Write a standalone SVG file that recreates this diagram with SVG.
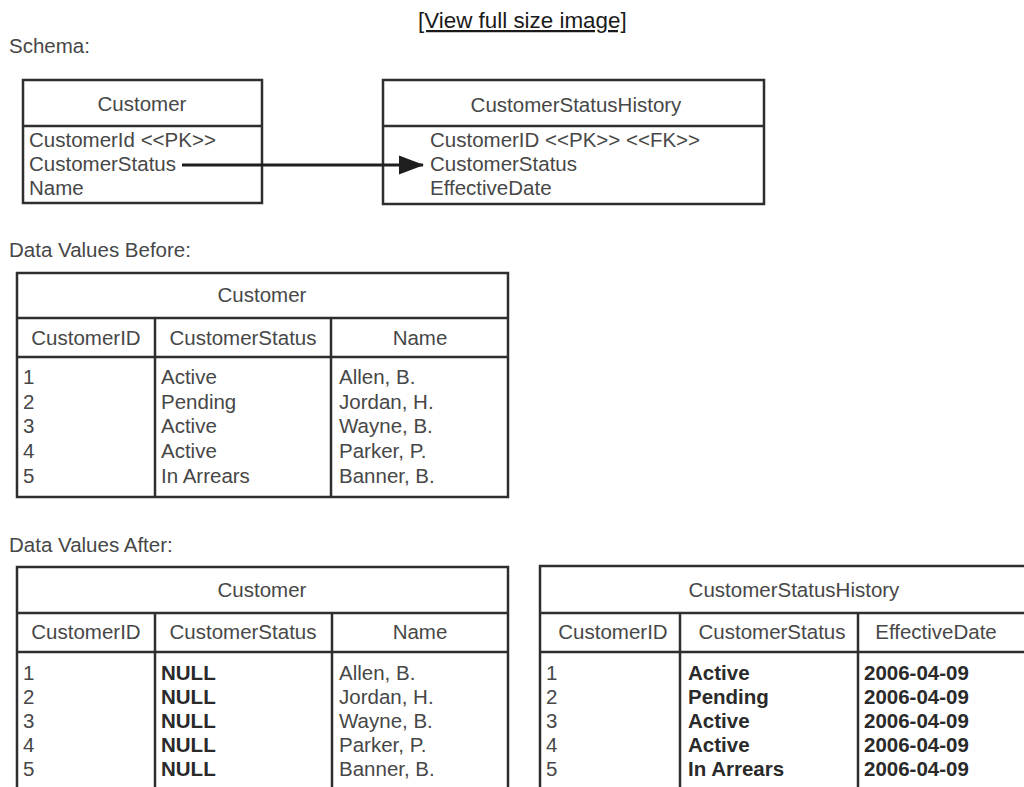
<svg xmlns="http://www.w3.org/2000/svg" width="1024" height="787" viewBox="0 0 1024 787">
<style>
  text { font-family: "Liberation Sans", Arial, sans-serif; font-size: 20.5px; fill: #474747; }
  .b { font-weight: bold; fill: #2a2a2a; }
  .c { text-anchor: middle; }
  .link { font-size: 22.4px; fill: #1a1a1a; text-decoration: underline; }
  .box { fill: #ffffff; stroke: #2e2e2e; stroke-width: 2.5; }
  .ln { stroke: #2e2e2e; stroke-width: 2.5; fill: none; }
  .arrow { stroke: #1e1e1e; stroke-width: 3.2; fill: none; }
</style>
<defs>
  <marker id="ah" markerWidth="8" markerHeight="6" refX="7.6" refY="3" orient="auto" markerUnits="strokeWidth">
    <polygon points="0,0 8,3 0,6" fill="#1e1e1e"/>
  </marker>
</defs>
<rect width="1024" height="787" fill="#ffffff"/>

<text class="link" x="418" y="28">[View full size image]</text>
<text x="9" y="53">Schema:</text>
<text x="9" y="257">Data Values Before:</text>
<text x="9" y="552">Data Values After:</text>

<g id="schema-customer">
  <rect class="box" x="23" y="80" width="239" height="123"/>
  <line class="ln" x1="23" y1="126" x2="262" y2="126"/>
  <text class="c" x="142" y="111">Customer</text>
  <text x="29" y="147">CustomerId &lt;&lt;PK&gt;&gt;</text>
  <text x="29" y="171">CustomerStatus</text>
  <text x="29" y="195">Name</text>
</g>

<g id="schema-csh">
  <rect class="box" x="383" y="80" width="381" height="124"/>
  <line class="ln" x1="383" y1="126" x2="764" y2="126"/>
  <text class="c" x="576" y="112">CustomerStatusHistory</text>
  <text x="430" y="147">CustomerID &lt;&lt;PK&gt;&gt; &lt;&lt;FK&gt;&gt;</text>
  <text x="430" y="171">CustomerStatus</text>
  <text x="430" y="195">EffectiveDate</text>
</g>

<g id="connectors">
  <line class="arrow" x1="182" y1="165" x2="423" y2="165" marker-end="url(#ah)"/>
</g>

<g id="before-customer">
  <rect class="box" x="17" y="273" width="491" height="224"/>
  <line class="ln" x1="17" y1="318" x2="508" y2="318"/>
  <line class="ln" x1="17" y1="357" x2="508" y2="357"/>
  <line class="ln" x1="155" y1="318" x2="155" y2="497"/>
  <line class="ln" x1="331" y1="318" x2="331" y2="497"/>
  <text class="c" x="262" y="302">Customer</text>
  <text class="c" x="86" y="345">CustomerID</text>
  <text class="c" x="243" y="345">CustomerStatus</text>
  <text class="c" x="420" y="345">Name</text>
  <text x="23" y="384">1</text>
  <text x="23" y="409">2</text>
  <text x="23" y="433">3</text>
  <text x="23" y="458">4</text>
  <text x="23" y="483">5</text>
  <text x="161" y="384">Active</text>
  <text x="161" y="409">Pending</text>
  <text x="161" y="433">Active</text>
  <text x="161" y="458">Active</text>
  <text x="161" y="483">In Arrears</text>
  <text x="339" y="384">Allen, B.</text>
  <text x="339" y="409">Jordan, H.</text>
  <text x="339" y="433">Wayne, B.</text>
  <text x="339" y="458">Parker, P.</text>
  <text x="339" y="483">Banner, B.</text>
</g>

<g id="after-customer">
  <rect class="box" x="17" y="567" width="491" height="240"/>
  <line class="ln" x1="17" y1="613" x2="508" y2="613"/>
  <line class="ln" x1="17" y1="652" x2="508" y2="652"/>
  <line class="ln" x1="155" y1="613" x2="155" y2="800"/>
  <line class="ln" x1="332" y1="613" x2="332" y2="800"/>
  <text class="c" x="262" y="597">Customer</text>
  <text class="c" x="86" y="639">CustomerID</text>
  <text class="c" x="243" y="639">CustomerStatus</text>
  <text class="c" x="420" y="639">Name</text>
  <text x="23" y="680">1</text>
  <text x="23" y="704">2</text>
  <text x="23" y="728">3</text>
  <text x="23" y="752">4</text>
  <text x="23" y="776">5</text>
  <text class="b" x="161" y="680">NULL</text>
  <text class="b" x="161" y="704">NULL</text>
  <text class="b" x="161" y="728">NULL</text>
  <text class="b" x="161" y="752">NULL</text>
  <text class="b" x="161" y="776">NULL</text>
  <text x="339" y="680">Allen, B.</text>
  <text x="339" y="704">Jordan, H.</text>
  <text x="339" y="728">Wayne, B.</text>
  <text x="339" y="752">Parker, P.</text>
  <text x="339" y="776">Banner, B.</text>
</g>

<g id="after-csh">
  <rect class="box" x="540" y="566" width="510" height="241"/>
  <line class="ln" x1="540" y1="613" x2="1050" y2="613"/>
  <line class="ln" x1="540" y1="652" x2="1050" y2="652"/>
  <line class="ln" x1="680" y1="613" x2="680" y2="800"/>
  <line class="ln" x1="858" y1="613" x2="858" y2="800"/>
  <text class="c" x="794" y="597">CustomerStatusHistory</text>
  <text class="c" x="613" y="639">CustomerID</text>
  <text class="c" x="772" y="639">CustomerStatus</text>
  <text class="c" x="936" y="639">EffectiveDate</text>
  <text x="546" y="680">1</text>
  <text x="546" y="704">2</text>
  <text x="546" y="728">3</text>
  <text x="546" y="752">4</text>
  <text x="546" y="776">5</text>
  <text class="b" x="688" y="680">Active</text>
  <text class="b" x="688" y="704">Pending</text>
  <text class="b" x="688" y="728">Active</text>
  <text class="b" x="688" y="752">Active</text>
  <text class="b" x="688" y="776">In Arrears</text>
  <text class="b" x="864" y="680">2006-04-09</text>
  <text class="b" x="864" y="704">2006-04-09</text>
  <text class="b" x="864" y="728">2006-04-09</text>
  <text class="b" x="864" y="752">2006-04-09</text>
  <text class="b" x="864" y="776">2006-04-09</text>
</g>
</svg>
